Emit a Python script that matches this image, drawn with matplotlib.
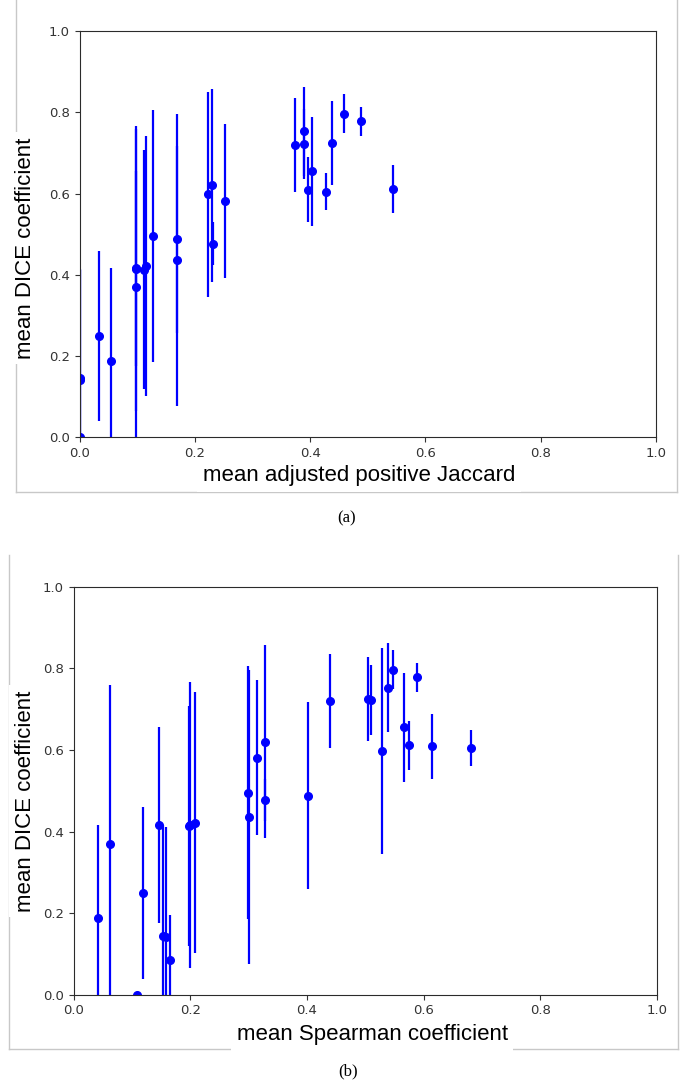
import matplotlib.pyplot as plt
from matplotlib.lines import Line2D

# per-method mean DICE coefficient and its spread
dice_mean = [0.189, 0.369, 0.000, 0.249, 0.415, 0.145, 0.142, 0.085,
             0.413, 0.416, 0.422, 0.495, 0.436, 0.581, 0.620, 0.477,
             0.488, 0.719, 0.725, 0.722, 0.598, 0.753, 0.797, 0.778,
             0.655, 0.611, 0.609, 0.605]
dice_std = [0.228, 0.390, 0.000, 0.210, 0.240, 0.270, 0.270, 0.110,
            0.294, 0.350, 0.320, 0.310, 0.360, 0.190, 0.237, 0.052,
            0.230, 0.115, 0.104, 0.086, 0.253, 0.110, 0.047, 0.036,
            0.134, 0.059, 0.080, 0.045]

# adjusted Jaccard can drop below zero; those fall outside the x range
jaccard_mean = [0.054, 0.097, 0.000, 0.033, 0.097, 0.000, 0.000, -0.020,
                0.112, 0.097, 0.115, 0.127, 0.169, 0.252, 0.229, 0.231,
                0.169, 0.373, 0.437, 0.389, 0.222, 0.390, 0.458, 0.488,
                0.404, 0.543, 0.397, 0.427]

spearman_mean = [0.042, 0.063, 0.108, 0.119, 0.146, 0.153, 0.159, 0.165,
                 0.197, 0.200, 0.208, 0.299, 0.301, 0.314, 0.328, 0.328,
                 0.402, 0.439, 0.505, 0.510, 0.528, 0.539, 0.547, 0.589,
                 0.567, 0.575, 0.614, 0.681]

W, H = 694, 1089
fig = plt.figure(figsize=(W / 100, H / 100), dpi=100)


def px(x, y):
    return x / W, 1 - y / H


def frame(x0, x1, y0, y1):
    # light grey box around each panel image (open at the top)
    for xs, ys in [((x0, x0), (y0, y1)), ((x1, x1), (y0, y1)), ((x0, x1), (y1, y1))]:
        fx = [px(x, 0)[0] for x in xs]
        fy = [px(0, y)[1] for y in ys]
        fig.add_artist(Line2D(fx, fy, color='#c8c8c8', lw=1.0, zorder=-1))


def panel(rect, xvals, xlabel, xlab_pos, ylab_pos):
    ax = fig.add_axes(rect)
    ax.errorbar(xvals, dice_mean, yerr=dice_std, fmt='o', color='blue',
                ecolor='blue', markersize=5.5, elinewidth=1.6)
    ax.set_xlim(0, 1)
    ax.set_ylim(0, 1)
    ax.set_xticks([0, 0.2, 0.4, 0.6, 0.8, 1.0])
    ax.set_yticks([0, 0.2, 0.4, 0.6, 0.8, 1.0])
    ax.tick_params(labelsize=9.5, labelcolor='#333333', color='#333333')
    for s in ax.spines.values():
        s.set_color('#2b2b2b')
    box = dict(facecolor='white', edgecolor='none', pad=4)
    ax.set_xlabel(xlabel, fontsize=16, family='Liberation Sans', bbox=box)
    ax.set_ylabel('mean DICE coefficient', fontsize=16, family='Liberation Sans', bbox=box)
    ax.xaxis.set_label_coords(*xlab_pos)
    ax.yaxis.set_label_coords(*ylab_pos)
    return ax


frame(15.5, 677, 0, 492.3)
frame(9.3, 678, 555, 1049)

panel([0.1148, 0.5984, 0.8304, 0.3731], jaccard_mean,
      'mean adjusted positive Jaccard', (0.485, -0.068), (-0.075, 0.466))
panel([0.1062, 0.0866, 0.8401, 0.3746], spearman_mean,
      'mean Spearman coefficient', (0.512, -0.072), (-0.065, 0.475))

fig.text(*px(347, 518), '(a)', ha='center', va='center', fontsize=12, family='Liberation Serif')
fig.text(*px(348, 1071), '(b)', ha='center', va='center', fontsize=12, family='Liberation Serif')

fig.savefig('out.png', dpi=100)
